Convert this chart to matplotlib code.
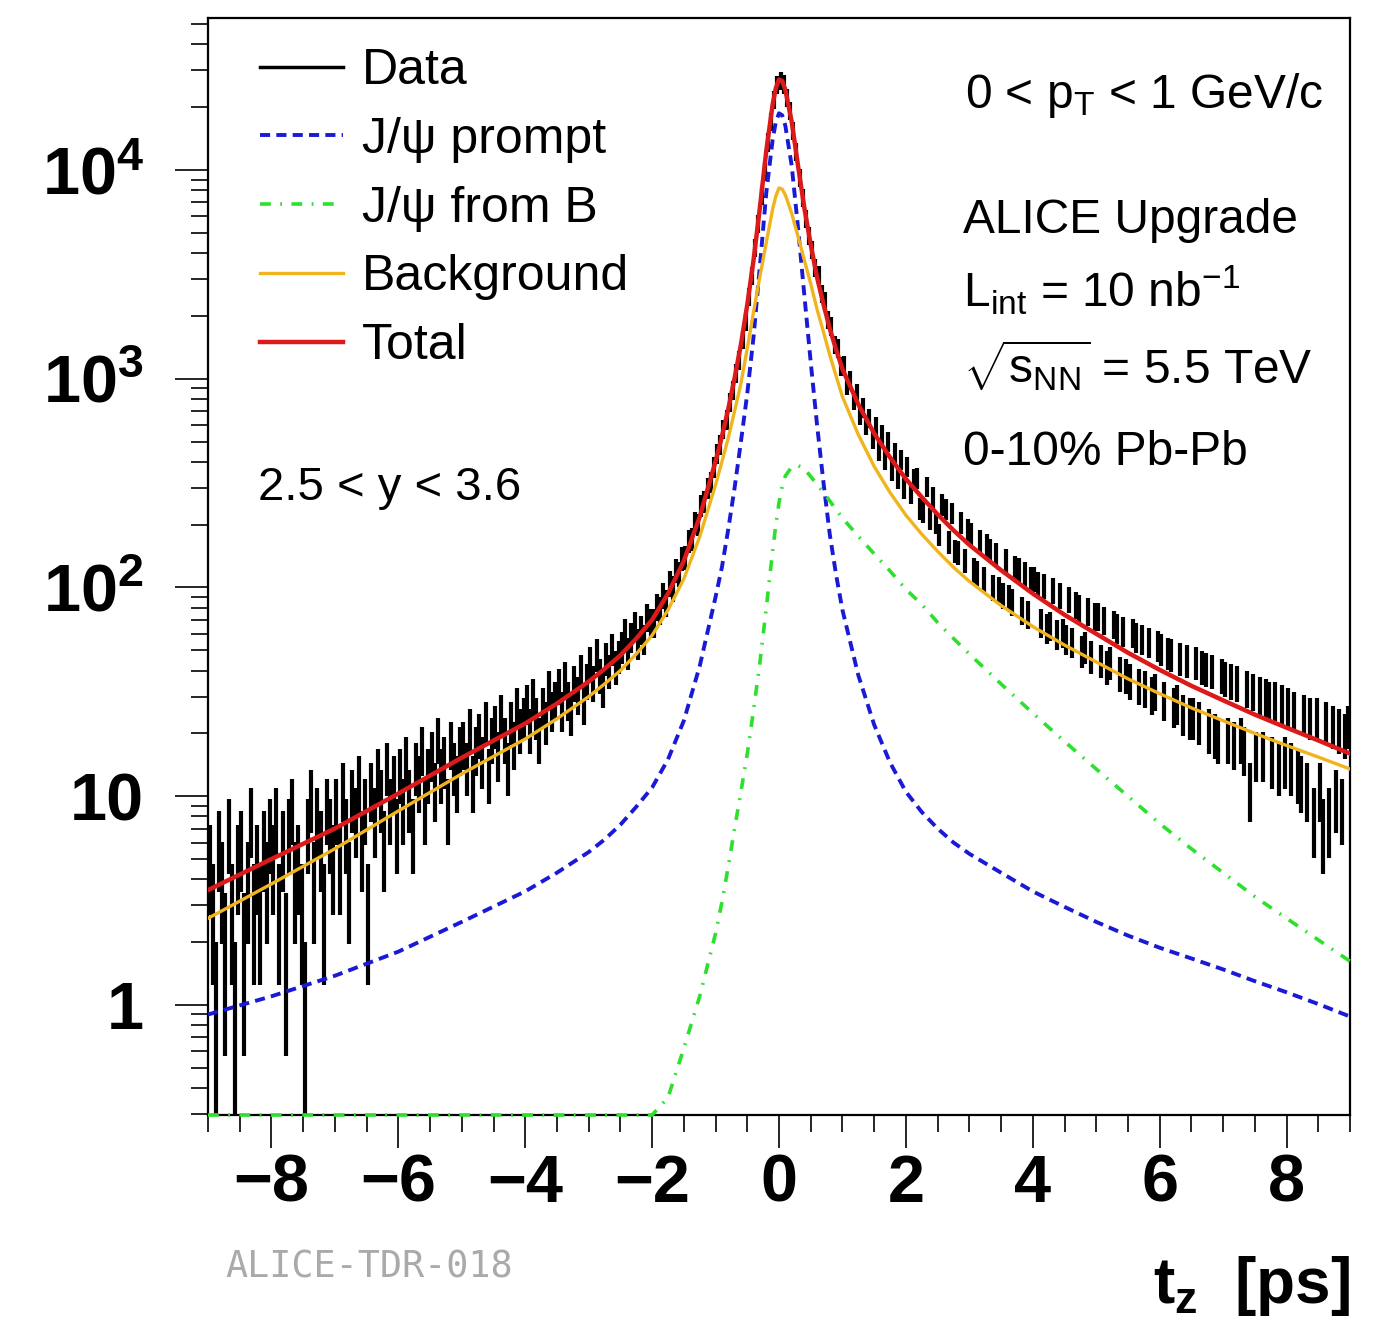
import numpy as np
import matplotlib
matplotlib.use('Agg')
from matplotlib import pyplot as plt
from matplotlib.ticker import FixedLocator, MultipleLocator, LogLocator, NullFormatter
from matplotlib.lines import Line2D

plt.rcParams['font.family'] = ['Liberation Sans', 'DejaVu Sans']
plt.rcParams['mathtext.fontset'] = 'custom'
plt.rcParams['mathtext.rm'] = 'Liberation Sans'
plt.rcParams['mathtext.it'] = 'Liberation Sans:italic'
plt.rcParams['mathtext.bf'] = 'Liberation Sans:bold'

# data histogram, 0.05 ps bins from -9 to 9 (counts)
data_counts = [
    5, 3, 1, 6, 4, 2, 7, 3, 1, 5,
    6, 2, 4, 8, 3, 5, 3, 6, 4, 7,
    5, 8, 3, 6, 2, 7, 9, 4, 5, 3,
    1, 7, 10, 4, 8, 6, 3, 9, 7, 5,
    9, 5, 11, 7, 4, 10, 8, 12, 6, 9,
    3, 11, 8, 13, 10, 6, 14, 9, 12, 7,
    13, 9, 15, 10, 7, 14, 12, 17, 9, 13,
    16, 11, 19, 13, 15, 9, 18, 14, 12, 17,
    18, 14, 21, 12, 17, 20, 15, 23, 13, 19,
    22, 16, 25, 19, 14, 23, 18, 27, 21, 24,
    28, 21, 30, 24, 19, 27, 23, 33, 26, 29,
    34, 26, 37, 29, 25, 35, 31, 40, 28, 36,
    44, 35, 48, 38, 33, 46, 40, 51, 42, 47,
    52, 61, 49, 58, 66, 54, 63, 57, 72, 68,
    68, 81, 78, 92, 85, 105, 99, 121, 116, 138,
    140, 168, 172, 205, 201, 248, 259, 301, 322, 378,
    440, 485, 575, 640, 775, 880, 1070, 1230, 1540, 1880,
    2480, 3120, 4250, 5550, 7580, 9900, 13600, 17100, 21700, 25700,
    26900, 25800, 22300, 19200, 15500, 12300, 9200, 7400, 5850, 4850,
    4150, 3420, 3150, 2560, 2350, 1920, 1790, 1460, 1400, 1150,
    1170, 930, 985, 790, 850, 670, 730, 600, 650, 520,
    590, 455, 540, 410, 500, 365, 445, 335, 410, 300,
    380, 285, 330, 335, 240, 232, 305, 215, 270, 205,
    180, 250, 238, 165, 228, 150, 148, 205, 135, 190,
    182, 122, 118, 168, 110, 160, 152, 100, 145, 98,
    92, 135, 90, 86, 125, 122, 78, 117, 75, 110,
    110, 104, 68, 102, 64, 66, 97, 60, 92, 61,
    57, 88, 55, 83, 80, 50, 52, 77, 47, 73,
    73, 45, 70, 42, 44, 67, 64, 39, 62, 38,
    36, 61, 58, 34, 57, 33, 55, 31, 32, 53,
    51, 29, 49, 48, 27, 28, 46, 25, 45, 24,
    24, 44, 23, 42, 41, 21, 40, 20, 19, 38,
    37, 19, 36, 18, 35, 19, 17, 33, 11, 32,
    16, 31, 16, 30, 29, 15, 29, 14, 28, 15,
    27, 14, 26, 13, 12, 25, 11, 24, 8, 24,
    11, 7, 23, 8, 22, 10, 21, 9, 20, 22,
]
bin_width = 0.05
rel_syst = 0.1  # weighted histogram: stat error plus a relative part

# fit components sampled along t_z
t_grid = [-9, -8, -7, -6, -5, -4, -3.5, -3, -2.75, -2.5, -2.25, -2, -1.75, -1.5, -1.25,
          -1, -0.9, -0.8, -0.7, -0.6, -0.5, -0.4, -0.3, -0.2, -0.1, -0.05, 0, 0.05, 0.1,
          0.2, 0.3, 0.4, 0.5, 0.6, 0.7, 0.8, 0.9, 1.0, 1.25, 1.5, 1.75, 2.0, 2.25, 2.5,
          2.75, 3.0, 3.5, 4.0, 4.5, 5.0, 5.5, 6.0, 6.5, 7.0, 7.5, 8.0, 8.5, 9.0]
prompt = [0.9, 1.1, 1.38, 1.8, 2.5, 3.5, 4.3, 5.4, 6.2, 7.3, 8.9, 11, 15, 23, 42,
          90, 125, 190, 300, 500, 850, 1600, 3500, 7800, 14000, 17000, 18700, 18300, 16300,
          10500, 5300, 2500, 1200, 600, 320, 180, 115, 78, 38, 22, 14.5, 10.5, 8.4, 7.0,
          6.0, 5.3, 4.3, 3.5, 2.95, 2.5, 2.15, 1.88, 1.67, 1.48, 1.3, 1.15, 1.01, 0.88]
from_b = [0.05, 0.05, 0.05, 0.05, 0.05, 0.05, 0.05, 0.05, 0.05, 0.05, 0.05, 0.18, 0.36, 0.62, 1.1,
          2.2, 3.1, 4.6, 7.0, 10.5, 16, 26, 44, 80, 150, 200, 255, 305, 342,
          378, 384, 370, 340, 312, 285, 260, 236, 215, 176, 145, 120, 98, 83, 68,
          57, 48, 34.5, 25, 18.3, 13.5, 10, 7.4, 5.6, 4.3, 3.3, 2.6, 2.05, 1.62]
background = [2.6, 3.8, 5.6, 8.5, 12.8, 18.8, 23.5, 30, 34.5, 40, 48, 59, 78, 110, 175,
              310, 400, 520, 700, 950, 1400, 2100, 3100, 4500, 6500, 7500, 8200, 8100, 7600,
              6200, 4800, 3700, 2850, 2150, 1680, 1300, 1030, 820, 540, 380, 285, 222, 180, 149,
              125, 107, 82, 65, 53, 44, 36.5, 31, 26.5, 23, 20, 17.5, 15.4, 13.5]
total = [3.55, 5.0, 7.0, 10.3, 15.3, 22.3, 27.8, 35.4, 40.7, 47.3, 56.9, 70, 93.4, 134, 218,
         402, 528, 715, 1007, 1460, 2266, 3726, 6644, 12380, 20650, 24700, 27155, 26705, 24242,
         17078, 10484, 6570, 4390, 3062, 2285, 1740, 1381, 1113, 754, 547, 420, 331, 271, 224,
         188, 160, 121, 93.5, 74, 60, 48.7, 40.3, 33.8, 28.8, 24.6, 21.3, 18.5, 16]

legend_labels = ['Data', 'J/\u03c8 prompt', 'J/\u03c8 from B', 'Background', 'Total']
x_ticks = [-8, -6, -4, -2, 0, 2, 4, 6, 8]
x_tick_labels = ['\u22128', '\u22126', '\u22124', '\u22122', '0', '2', '4', '6', '8']
y_ticks = [1, 10, 100, 1000, 10000]
y_tick_labels = ['1', '10', r'$\mathregular{10^{2}}$', r'$\mathregular{10^{3}}$', r'$\mathregular{10^{4}}$']

y_min, y_max = 0.297, 53500

fig = plt.figure(figsize=(13.94, 13.21), dpi=100)
ax = fig.add_axes([208/1394, 1 - 1115/1321, 1142/1394, 1097/1321])

counts = np.array(data_counts, dtype=float)
centers = -9 + bin_width/2 + bin_width*np.arange(len(counts))
err = np.sqrt(counts + (rel_syst*counts)**2)
err_low = np.minimum(err, counts*0.999)
ax.errorbar(centers, counts, yerr=[err_low, err], xerr=bin_width/2, fmt='none',
            ecolor='black', elinewidth=3.0, capsize=0, zorder=2)

l_prompt, = ax.plot(t_grid, prompt, color='#1a1ad6', lw=2.8, dashes=(2.6, 1.6), zorder=3)
l_b, = ax.plot(t_grid, np.clip(from_b, y_min, None), color='#2ee02e', lw=2.6,
               dashes=(3.0, 2.6, 0.5, 2.6), zorder=3, clip_on=False)
l_bkg, = ax.plot(t_grid, background, color='#f0b41e', lw=2.4, zorder=4)
l_tot, = ax.plot(t_grid, total, color='#dd1a1a', lw=3.2, zorder=5)

ax.set_xlim(-9, 9)
ax.set_yscale('log')
ax.set_ylim(y_min, y_max)

ax.xaxis.set_major_locator(FixedLocator(x_ticks))
ax.set_xticklabels(x_tick_labels)
ax.xaxis.set_minor_locator(MultipleLocator(0.5))
ax.yaxis.set_major_locator(FixedLocator(y_ticks))
ax.set_yticklabels(y_tick_labels)
ax.yaxis.set_minor_locator(LogLocator(base=10, subs=np.arange(2, 10), numticks=30))
ax.yaxis.set_minor_formatter(NullFormatter())

ax.tick_params(which='major', direction='out', length=24, width=1.2, top=False, right=False)
ax.tick_params(which='minor', direction='out', length=12, width=1.2, top=False, right=False)
ax.tick_params(axis='x', which='major', labelsize=48, pad=4)
ax.tick_params(axis='y', which='major', labelsize=48, pad=22)
for lbl in ax.get_xticklabels() + ax.get_yticklabels():
    lbl.set_fontweight('bold')
for sp in ax.spines.values():
    sp.set_linewidth(1.6)

data_handle = Line2D([], [], color='black', lw=2.5)
ax.legend([data_handle, l_prompt, l_b, l_bkg, l_tot], legend_labels,
          loc='upper left', bbox_to_anchor=(0.0455, 0.9725), frameon=False,
          fontsize=36, handlelength=1.66, handletextpad=0.38, labelspacing=0.455,
          borderpad=0, borderaxespad=0)

ax.text(0.663, 0.918, r'0 < p$_{\mathregular{T}}$ < 1 GeV/c', transform=ax.transAxes,
        fontsize=34.5, va='baseline')
ax.text(0.661, 0.804, 'ALICE Upgrade', transform=ax.transAxes, fontsize=34.5, va='baseline')
ax.text(0.661, 0.7366, r'L$_{\mathregular{int}}$ = 10 nb$^{\mathregular{-1}}$',
        transform=ax.transAxes, fontsize=34.5, va='baseline')
ax.text(0.661, 0.667, r'$\sqrt{\mathregular{s}_{\mathregular{NN}}}$ = 5.5 TeV',
        transform=ax.transAxes, fontsize=34.5, va='baseline')
ax.text(0.661, 0.5925, '0-10% Pb-Pb', transform=ax.transAxes, fontsize=34.5, va='baseline')
ax.text(0.0438, 0.5606, '2.5 < y < 3.6', transform=ax.transAxes, fontsize=34, va='baseline')

fig.text(1350/1394, 1 - 1303/1321, r'$\mathregular{t_{z}}$  [ps]', ha='right', va='baseline',
         fontsize=46, fontweight='bold')
fig.text(225/1394, 1 - 1278/1321, 'ALICE-TDR-018', family='DejaVu Sans Mono',
         fontsize=26.5, color='#aaaaaa', va='baseline')

fig.savefig('out.png', dpi=100)
